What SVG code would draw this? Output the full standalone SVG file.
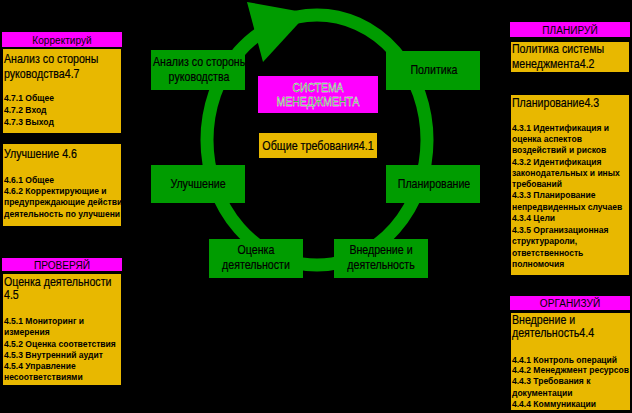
<svg xmlns="http://www.w3.org/2000/svg" width="632" height="413" viewBox="0 0 632 413">
<defs>
<style>
.g{fill:#009C00}
.y{fill:#E8B800}
.m{fill:#FF00FF}
.t{font-family:"Liberation Sans",Arial,sans-serif;font-size:12.5px;fill:#000;stroke:#000;stroke-width:0.2}
.c{text-anchor:middle}
.s{font-family:"Liberation Sans",Arial,sans-serif;font-size:9.5px;font-weight:bold;fill:#000}
.h{font-family:"Liberation Sans",Arial,sans-serif;font-size:11px;fill:#000;text-anchor:middle}
.sm{font-family:"Liberation Sans",Arial,sans-serif;font-size:12px;fill:#00A000;stroke:#FFFFFF;stroke-width:0.4;text-anchor:middle}
</style>
<clipPath id="clipA"><rect x="151" y="50" width="94" height="40"/></clipPath>
<clipPath id="clipU"><rect x="3" y="144" width="118" height="82"/></clipPath>
</defs>
<rect x="0" y="0" width="632" height="413" fill="#000"/>
<g id="connectors">
<ellipse cx="317" cy="140" rx="110" ry="125" fill="none" stroke="#009C00" stroke-width="13"/>
<polygon points="247,2 308,13 263,62" fill="#009C00"/>
</g>
<g id="center-title">
<rect class="m" x="258" y="76" width="120" height="37"/>
<g transform="matrix(0.87 0 0 1 41.34 0)">
<text class="sm" x="318" y="92">СИСТЕМА</text>
<text class="sm" x="318" y="106">МЕНЕДЖМЕНТА</text>
</g>
</g>
<g id="general">
<rect class="y" x="259" y="133" width="118" height="25"/>
<text class="t c" x="318" y="150" transform="matrix(0.86 0 0 1 44.52 0)">Общие требования4.1</text>
</g>
<g id="node-analiz">
<rect class="g" x="151" y="50" width="94" height="40"/>
<g clip-path="url(#clipA)">
<text class="t" x="153" y="66" transform="matrix(0.85 0 0 1 22.95 0)">Анализ со стороны</text>
<text class="t c" x="199" y="81" transform="matrix(0.85 0 0 1 29.85 0)">руководства</text>
</g>
</g>
<g id="node-politika">
<rect class="g" x="386" y="51" width="94" height="39"/>
<text class="t c" x="434" y="74" transform="matrix(0.85 0 0 1 65.1 0)">Политика</text>
</g>
<g id="node-uluchshenie">
<rect class="g" x="151" y="165" width="94" height="38"/>
<text class="t c" x="198" y="188" transform="matrix(0.85 0 0 1 29.7 0)">Улучшение</text>
</g>
<g id="node-planirovanie">
<rect class="g" x="386" y="165" width="94" height="38"/>
<text class="t c" x="434" y="188" transform="matrix(0.85 0 0 1 65.1 0)">Планирование</text>
</g>
<g id="node-ocenka">
<rect class="g" x="209" y="239" width="94" height="39"/>
<g transform="matrix(0.85 0 0 1 38.4 0)">
<text class="t c" x="256" y="254">Оценка</text>
<text class="t c" x="256" y="269">деятельности</text>
</g>
</g>
<g id="node-vnedrenie">
<rect class="g" x="334" y="239" width="94" height="39"/>
<g transform="matrix(0.85 0 0 1 57.15 0)">
<text class="t c" x="381" y="254">Внедрение и</text>
<text class="t c" x="381" y="269">деятельность</text>
</g>
</g>
<g id="hdr-korrektiruy">
<rect class="m" x="2" y="32" width="120" height="15"/>
<text class="h" x="62" y="44" transform="matrix(0.92 0 0 1 4.96 0)">Корректируй</text>
</g>
<g id="box-analiz">
<rect class="y" x="3" y="49" width="118" height="84"/>
<g transform="matrix(0.85 0 0 1 0.6 0)">
<text class="t" x="4" y="63">Анализ со стороны</text>
<text class="t" x="4" y="78">руководства4.7</text>
</g>
<g transform="matrix(0.9 0 0 1 0.4 0)">
<text class="s" x="4" y="101">4.7.1 Общее</text>
<text class="s" x="4" y="113">4.7.2 Вход</text>
<text class="s" x="4" y="125">4.7.3 Выход</text>
</g>
</g>
<g id="box-uluchshenie">
<rect class="y" x="3" y="144" width="118" height="82"/>
<g clip-path="url(#clipU)">
<text class="t" x="4" y="158" transform="matrix(0.85 0 0 1 0.6 0)">Улучшение 4.6</text>
<g transform="matrix(0.9 0 0 1 0.4 0)">
<text class="s" x="4" y="183">4.6.1 Общее</text>
<text class="s" x="4" y="194">4.6.2 Корректирующие и</text>
<text class="s" x="4" y="205">предупреждающие действи</text>
<text class="s" x="4" y="217">деятельность по улучшени</text>
</g>
</g>
</g>
<g id="hdr-proveryay">
<rect class="m" x="2" y="258" width="120" height="13"/>
<text class="h" x="62" y="269" transform="matrix(0.92 0 0 1 4.96 0)">ПРОВЕРЯЙ</text>
</g>
<g id="box-ocenka">
<rect class="y" x="3" y="274" width="118" height="111"/>
<g transform="matrix(0.85 0 0 1 0.6 0)">
<text class="t" x="4" y="286">Оценка деятельности</text>
<text class="t" x="4" y="299">4.5</text>
</g>
<g transform="matrix(0.9 0 0 1 0.4 0)">
<text class="s" x="4" y="324">4.5.1 Мониторинг и</text>
<text class="s" x="4" y="335">измерения</text>
<text class="s" x="4" y="347">4.5.2 Оценка соответствия</text>
<text class="s" x="4" y="358">4.5.3 Внутренний аудит</text>
<text class="s" x="4" y="369">4.5.4 Управление</text>
<text class="s" x="4" y="380">несоответствиями</text>
</g>
</g>
<g id="hdr-planiruy">
<rect class="m" x="510" y="22" width="120" height="15"/>
<text class="h" x="570" y="34" transform="matrix(0.92 0 0 1 45.6 0)">ПЛАНИРУЙ</text>
</g>
<g id="box-politika">
<rect class="y" x="511" y="42" width="118" height="30"/>
<g transform="matrix(0.85 0 0 1 76.8 0)">
<text class="t" x="512" y="53">Политика системы</text>
<text class="t" x="512" y="68">менеджмента4.2</text>
</g>
</g>
<g id="box-planirovanie">
<rect class="y" x="511" y="95" width="118" height="180"/>
<text class="t" x="512" y="107" transform="matrix(0.85 0 0 1 76.8 0)">Планирование4.3</text>
<g transform="matrix(0.9 0 0 1 51.2 0)">
<text class="s" x="512" y="131">4.3.1 Идентификация и</text>
<text class="s" x="512" y="142">оценка аспектов</text>
<text class="s" x="512" y="153">воздействий и рисков</text>
<text class="s" x="512" y="165">4.3.2 Идентификация</text>
<text class="s" x="512" y="176">законодательных и иных</text>
<text class="s" x="512" y="187">требований</text>
<text class="s" x="512" y="198">4.3.3 Планирование</text>
<text class="s" x="512" y="210">непредвиденных случаев</text>
<text class="s" x="512" y="221">4.3.4 Цели</text>
<text class="s" x="512" y="233">4.3.5 Организационная</text>
<text class="s" x="512" y="244">структурароли,</text>
<text class="s" x="512" y="256">ответственность</text>
<text class="s" x="512" y="267">полномочия</text>
</g>
</g>
<g id="hdr-organizuy">
<rect class="m" x="510" y="296" width="120" height="14"/>
<text class="h" x="570" y="307" transform="matrix(0.92 0 0 1 45.6 0)">ОРГАНИЗУЙ</text>
</g>
<g id="box-vnedrenie">
<rect class="y" x="511" y="313" width="119" height="97"/>
<g transform="matrix(0.85 0 0 1 76.8 0)">
<text class="t" x="512" y="324">Внедрение и</text>
<text class="t" x="512" y="337">деятельность4.4</text>
</g>
<g transform="matrix(0.9 0 0 1 51.2 0)">
<text class="s" x="512" y="363">4.4.1 Контроль операций</text>
<text class="s" x="512" y="373">4.4.2 Менеджмент ресурсов</text>
<text class="s" x="512" y="384">4.4.3 Требования к</text>
<text class="s" x="512" y="396">документации</text>
<text class="s" x="512" y="407">4.4.4 Коммуникации</text>
</g>
</g>
</svg>
